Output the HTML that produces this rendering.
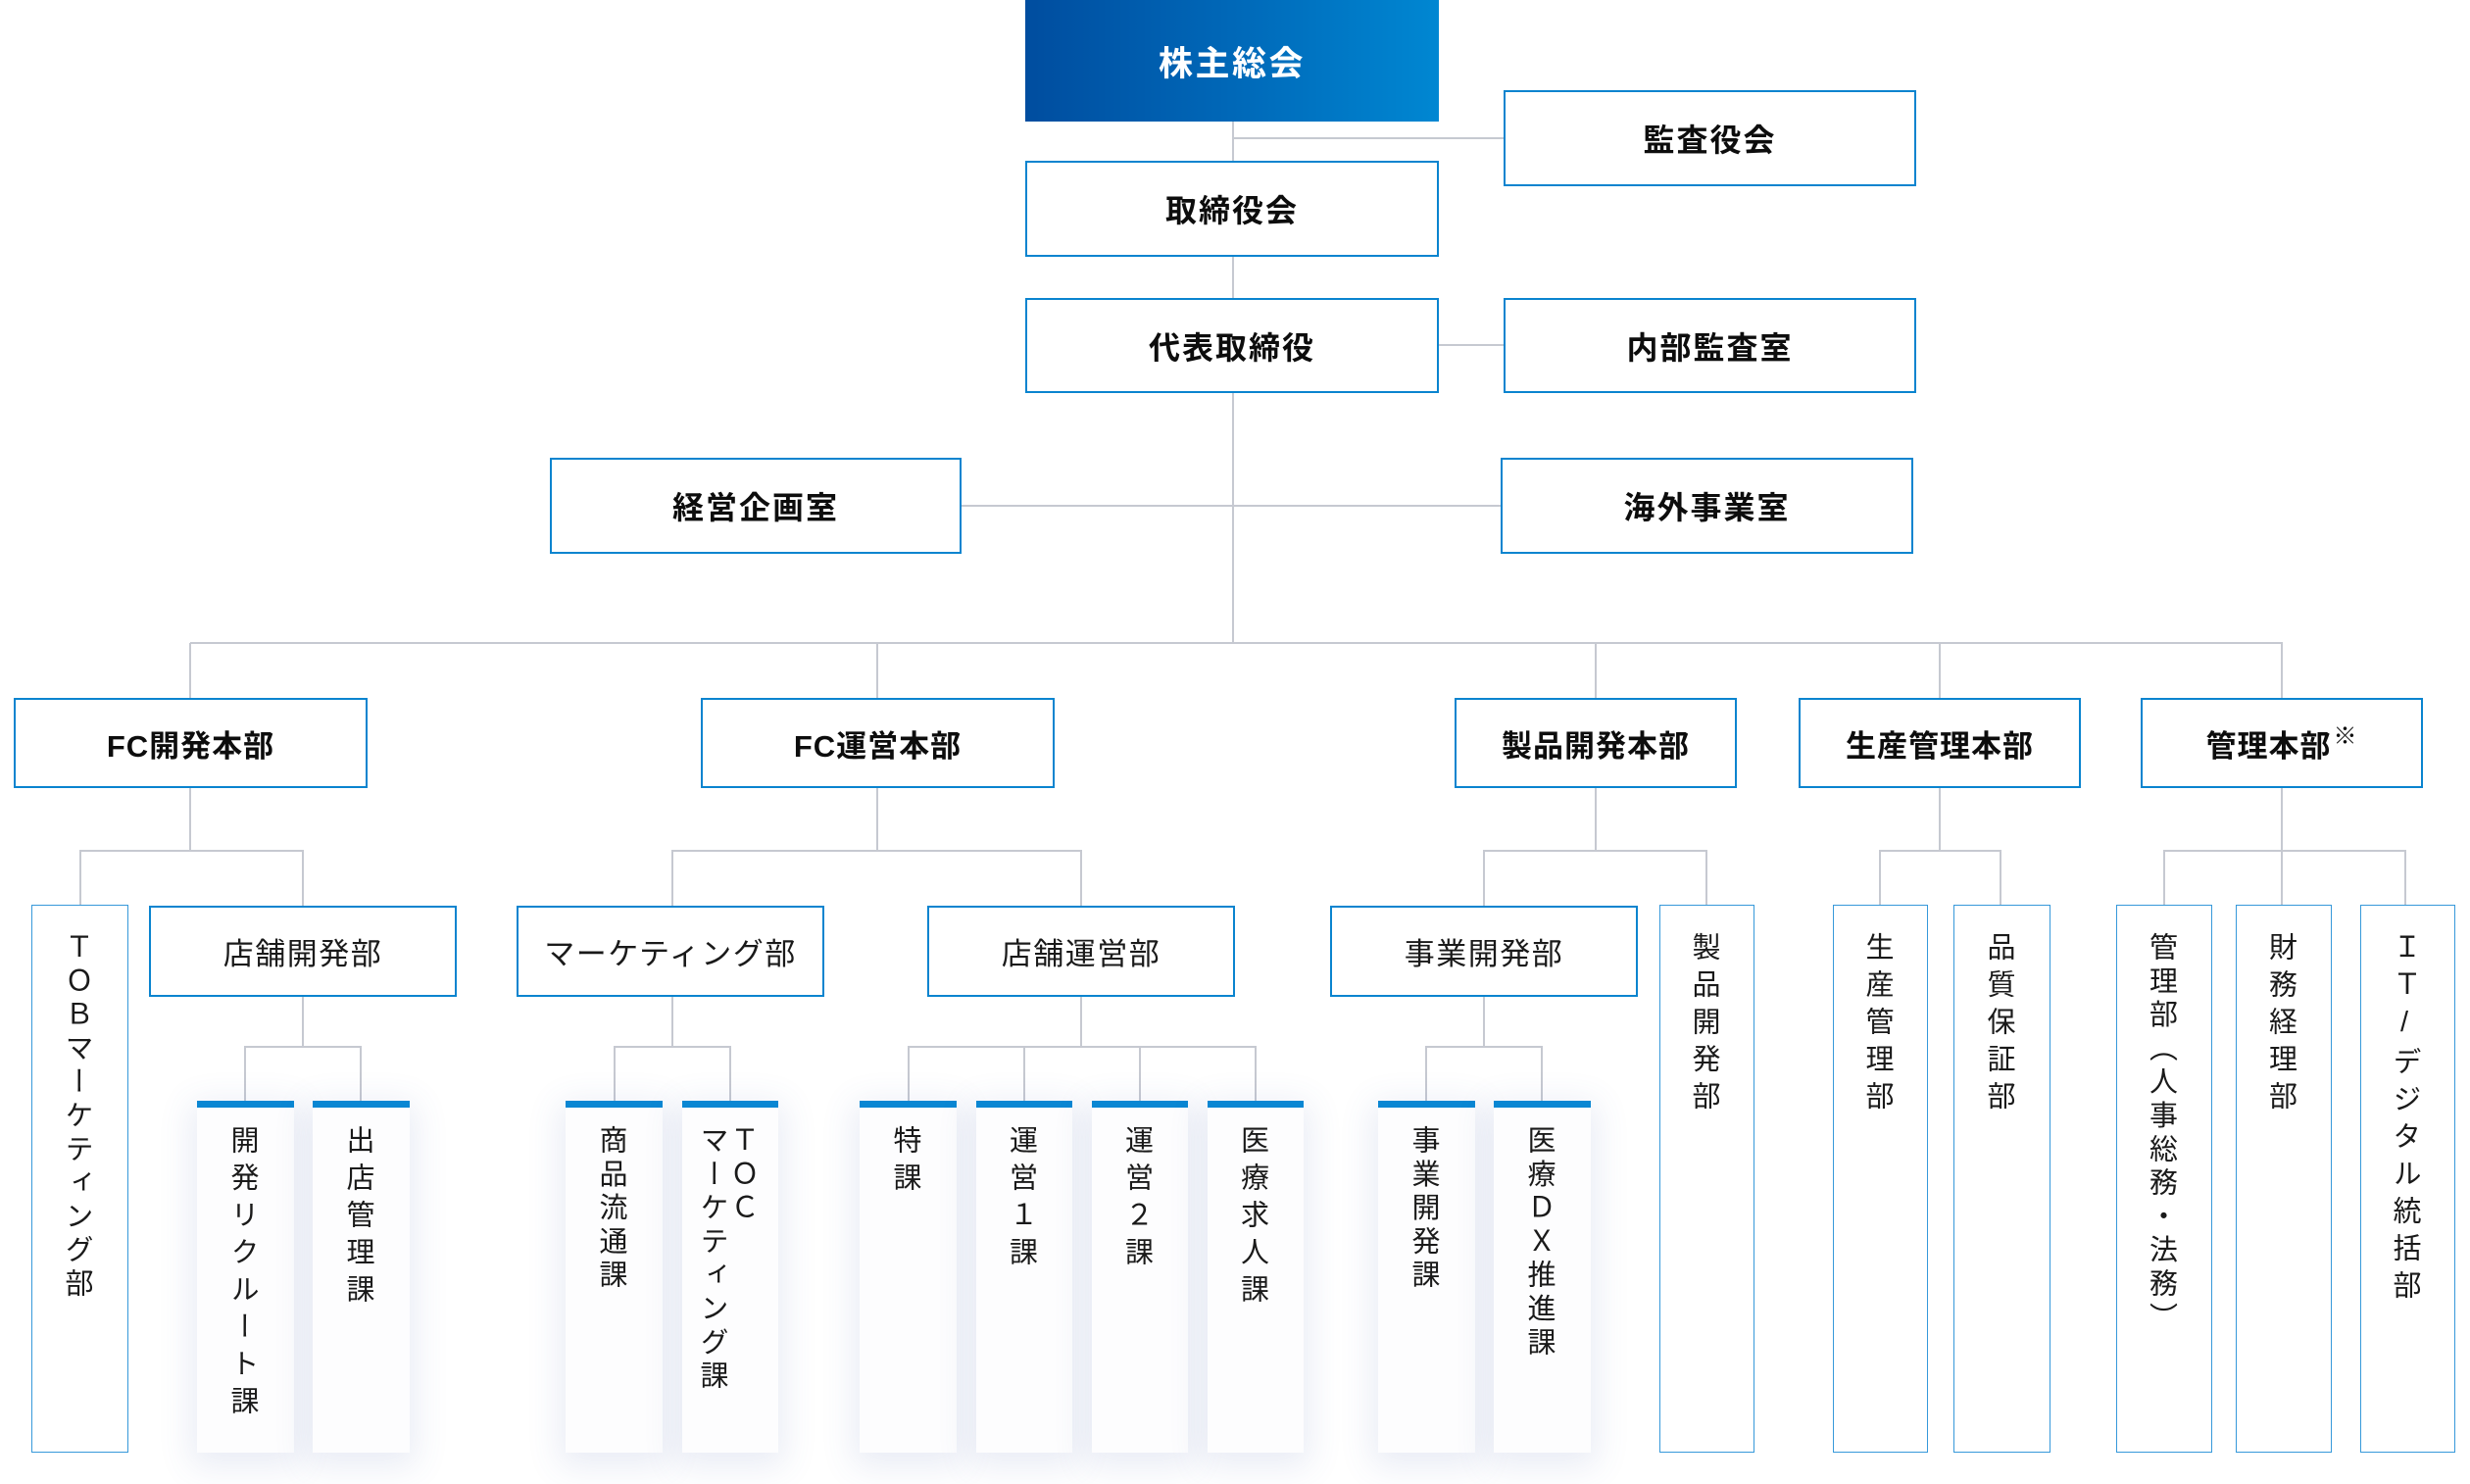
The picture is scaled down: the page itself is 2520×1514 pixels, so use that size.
<!DOCTYPE html>
<html lang="ja">
<head>
<meta charset="utf-8">
<style>
html,body{margin:0;padding:0;}
body{width:2520px;height:1514px;position:relative;background:#fff;overflow:hidden;
font-family:"Liberation Sans","Noto Sans CJK JP",sans-serif;color:#111;}
.l{position:absolute;background:#c6c9d1;}
.b{position:absolute;box-sizing:border-box;border:2px solid #0a84cf;background:#fff;display:flex;align-items:center;justify-content:center;font-weight:bold;color:#0d0d0d;white-space:nowrap;}
.t{font-size:32px;letter-spacing:2px;}
.m{font-size:31px;letter-spacing:1px;}
.s{font-weight:normal;font-size:31px;letter-spacing:1.5px;color:#1a1a1a;}
.v{position:absolute;box-sizing:border-box;border:1.5px solid #3799da;background:#fff;display:flex;justify-content:center;align-items:flex-start;padding-top:27px;padding-right:8px;top:923px;height:559px;}
.c{position:absolute;box-sizing:border-box;border-top:7px solid #0a87d3;background:#fdfdfe;display:flex;justify-content:center;align-items:flex-start;padding-top:18px;padding-right:8px;top:1123px;height:359px;
box-shadow:0 8px 32px 6px rgba(70,100,170,0.12);}
.vt{writing-mode:vertical-rl;font-size:29px;line-height:31px;color:#1a1a1a;white-space:nowrap;}
.up{text-orientation:upright;}
.w9{letter-spacing:9px;}
.w5{letter-spacing:5.3px;}
sup{font-size:24px;font-weight:normal;position:relative;top:-6px;margin-left:2px;vertical-align:top;line-height:1;}
</style>
</head>
<body>

<!-- top connectors -->
<div class="l" style="left:1257px;top:124px;width:2px;height:532px;"></div>
<div class="l" style="left:1258px;top:140px;width:276px;height:2px;"></div>
<div class="l" style="left:1468px;top:351px;width:66px;height:2px;"></div>
<div class="l" style="left:981px;top:515px;width:550px;height:2px;"></div>
<!-- top bus -->
<div class="l" style="left:194px;top:655px;width:2135px;height:2px;"></div>
<div class="l" style="left:193px;top:656px;width:2px;height:56px;"></div>
<div class="l" style="left:894px;top:656px;width:2px;height:56px;"></div>
<div class="l" style="left:1627px;top:656px;width:2px;height:56px;"></div>
<div class="l" style="left:1978px;top:656px;width:2px;height:56px;"></div>
<div class="l" style="left:2327px;top:656px;width:2px;height:56px;"></div>

<!-- level2 to level3 connectors -->
<div class="l" style="left:193px;top:804px;width:2px;height:64px;"></div>
<div class="l" style="left:81px;top:867px;width:229px;height:2px;"></div>
<div class="l" style="left:81px;top:868px;width:2px;height:55px;"></div>
<div class="l" style="left:308px;top:868px;width:2px;height:56px;"></div>

<div class="l" style="left:894px;top:804px;width:2px;height:64px;"></div>
<div class="l" style="left:685px;top:867px;width:419px;height:2px;"></div>
<div class="l" style="left:685px;top:868px;width:2px;height:56px;"></div>
<div class="l" style="left:1102px;top:868px;width:2px;height:56px;"></div>

<div class="l" style="left:1627px;top:804px;width:2px;height:64px;"></div>
<div class="l" style="left:1513px;top:867px;width:229px;height:2px;"></div>
<div class="l" style="left:1513px;top:868px;width:2px;height:56px;"></div>
<div class="l" style="left:1740px;top:868px;width:2px;height:55px;"></div>

<div class="l" style="left:1978px;top:804px;width:2px;height:64px;"></div>
<div class="l" style="left:1917px;top:867px;width:125px;height:2px;"></div>
<div class="l" style="left:1917px;top:868px;width:2px;height:55px;"></div>
<div class="l" style="left:2040px;top:868px;width:2px;height:55px;"></div>

<div class="l" style="left:2327px;top:804px;width:2px;height:119px;"></div>
<div class="l" style="left:2207px;top:867px;width:248px;height:2px;"></div>
<div class="l" style="left:2207px;top:868px;width:2px;height:55px;"></div>
<div class="l" style="left:2453px;top:868px;width:2px;height:55px;"></div>

<!-- level3 to cards -->
<div class="l" style="left:308px;top:1017px;width:2px;height:51px;"></div>
<div class="l" style="left:249px;top:1067px;width:120px;height:2px;"></div>
<div class="l" style="left:249px;top:1068px;width:2px;height:55px;"></div>
<div class="l" style="left:367px;top:1068px;width:2px;height:55px;"></div>

<div class="l" style="left:685px;top:1017px;width:2px;height:51px;"></div>
<div class="l" style="left:626px;top:1067px;width:120px;height:2px;"></div>
<div class="l" style="left:626px;top:1068px;width:2px;height:55px;"></div>
<div class="l" style="left:744px;top:1068px;width:2px;height:55px;"></div>

<div class="l" style="left:1102px;top:1017px;width:2px;height:51px;"></div>
<div class="l" style="left:926px;top:1067px;width:356px;height:2px;"></div>
<div class="l" style="left:926px;top:1068px;width:2px;height:55px;"></div>
<div class="l" style="left:1044px;top:1068px;width:2px;height:55px;"></div>
<div class="l" style="left:1162px;top:1068px;width:2px;height:55px;"></div>
<div class="l" style="left:1280px;top:1068px;width:2px;height:55px;"></div>

<div class="l" style="left:1513px;top:1017px;width:2px;height:51px;"></div>
<div class="l" style="left:1454px;top:1067px;width:120px;height:2px;"></div>
<div class="l" style="left:1454px;top:1068px;width:2px;height:55px;"></div>
<div class="l" style="left:1572px;top:1068px;width:2px;height:55px;"></div>

<!-- top boxes -->
<div class="b" style="left:1046px;top:0;width:422px;height:124px;border:none;background:linear-gradient(90deg,#004d9f 0%,#0068b8 50%,#0087d2 100%);color:#fff;font-size:35px;letter-spacing:2.5px;">株主総会</div>
<div class="b t" style="left:1534px;top:92px;width:421px;height:98px;">監査役会</div>
<div class="b t" style="left:1046px;top:164px;width:422px;height:98px;">取締役会</div>
<div class="b t" style="left:1046px;top:304px;width:422px;height:97px;">代表取締役</div>
<div class="b t" style="left:1534px;top:304px;width:421px;height:97px;">内部監査室</div>
<div class="b t" style="left:561px;top:467px;width:420px;height:98px;">経営企画室</div>
<div class="b t" style="left:1531px;top:467px;width:421px;height:98px;">海外事業室</div>

<!-- level 2 -->
<div class="b m" style="left:14px;top:712px;width:361px;height:92px;">FC開発本部</div>
<div class="b m" style="left:715px;top:712px;width:361px;height:92px;">FC運営本部</div>
<div class="b m" style="left:1484px;top:712px;width:288px;height:92px;">製品開発本部</div>
<div class="b m" style="left:1835px;top:712px;width:288px;height:92px;">生産管理本部</div>
<div class="b m" style="left:2184px;top:712px;width:288px;height:92px;">管理本部<sup>※</sup></div>

<!-- level 3 horizontal -->
<div class="b s" style="left:152px;top:924px;width:314px;height:93px;">店舗開発部</div>
<div class="b s" style="left:527px;top:924px;width:314px;height:93px;">マーケティング部</div>
<div class="b s" style="left:946px;top:924px;width:314px;height:93px;">店舗運営部</div>
<div class="b s" style="left:1357px;top:924px;width:314px;height:93px;">事業開発部</div>

<!-- vertical boxes -->
<div class="v" style="left:32px;width:99px;"><span class="vt w5">ＴＯＢマーケティング部</span></div>
<div class="v" style="left:1693px;width:97px;"><span class="vt w9">製品開発部</span></div>
<div class="v" style="left:1870px;width:97px;"><span class="vt w9">生産管理部</span></div>
<div class="v" style="left:1993px;width:99px;"><span class="vt w9">品質保証部</span></div>
<div class="v" style="left:2159px;width:98px;"><span class="vt w5">管理部（人事総務・法務）</span></div>
<div class="v" style="left:2281px;width:98px;"><span class="vt w9">財務経理部</span></div>
<div class="v" style="left:2408px;width:97px;"><span class="vt w9">ＩＴ<span class="up">/</span>デジタル統括部</span></div>

<!-- cards -->
<div class="c" style="left:201px;width:99px;"><span class="vt w9">開発リクルート課</span></div>
<div class="c" style="left:319px;width:99px;"><span class="vt w9">出店管理課</span></div>
<div class="c" style="left:577px;width:99px;"><span class="vt w5">商品流通課</span></div>
<div class="c" style="left:696px;width:98px;"><span class="vt w5">ＴＯＣ<br>マーケティング課</span></div>
<div class="c" style="left:877px;width:99px;"><span class="vt w9">特課</span></div>
<div class="c" style="left:996px;width:98px;"><span class="vt w9">運営１課</span></div>
<div class="c" style="left:1114px;width:98px;"><span class="vt w9">運営２課</span></div>
<div class="c" style="left:1232px;width:98px;"><span class="vt w9">医療求人課</span></div>
<div class="c" style="left:1406px;width:99px;"><span class="vt w5">事業開発課</span></div>
<div class="c" style="left:1524px;width:99px;"><span class="vt w5">医療ＤＸ推進課</span></div>

</body>
</html>
